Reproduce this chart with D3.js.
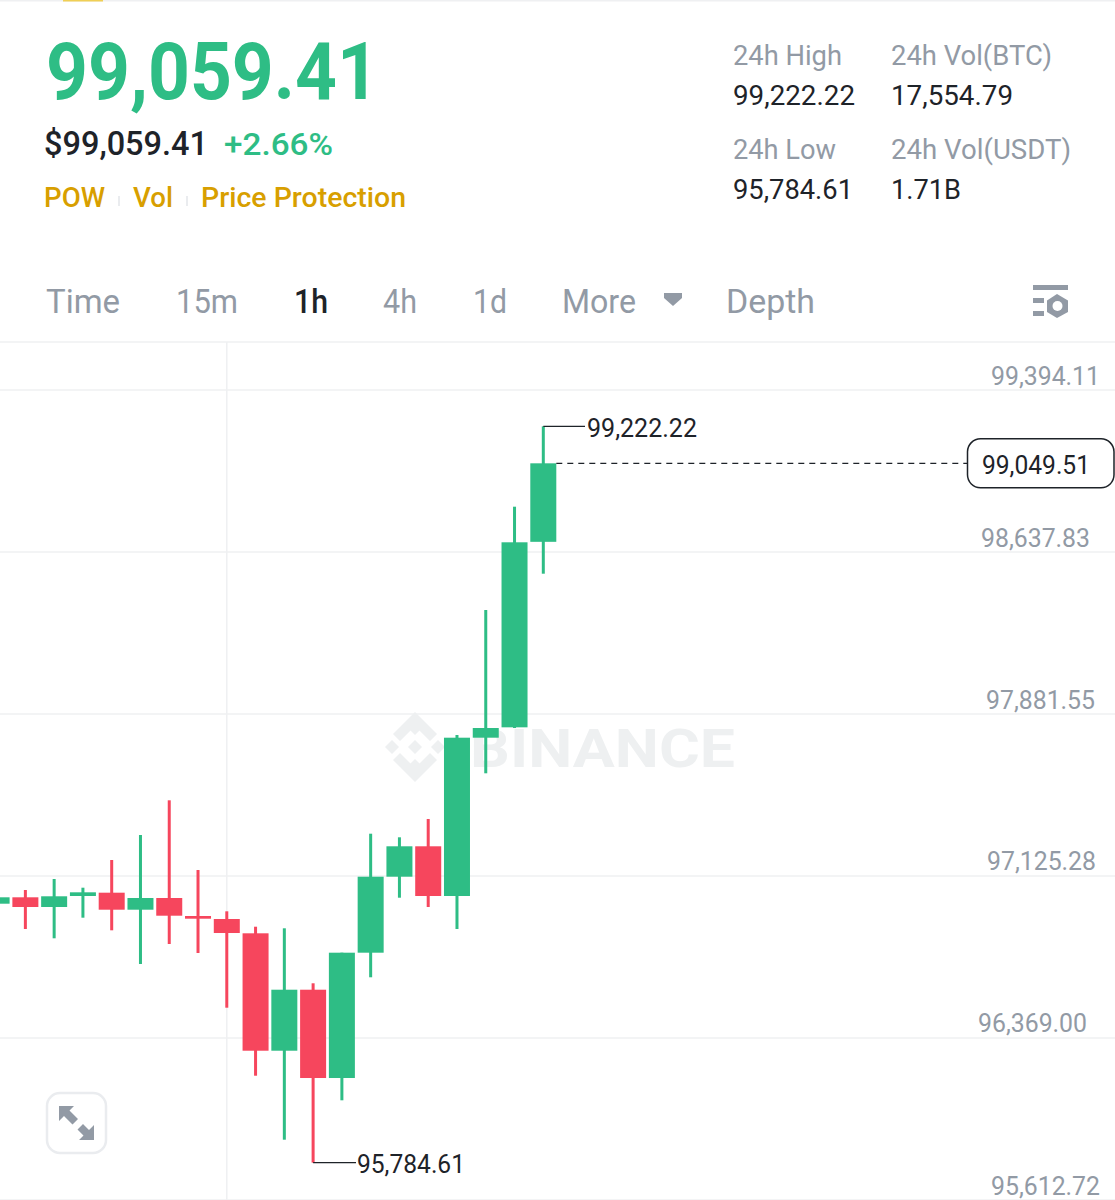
<!DOCTYPE html>
<html>
<head>
<meta charset="utf-8">
<style>
  html, body { margin: 0; padding: 0; background: #fff; }
  svg { display: block; }
  text { font-family: Roboto, sans-serif; }
</style>
</head>
<body>
<svg id="chart" width="1115" height="1200"></svg>
<script src="https://cdn.jsdelivr.net/npm/d3@7"></script>
<script>
// candles, oldest first
const opens  = [96993.6, 97023.5, 96978.2, 97029.6, 97045.0, 96965.6, 97020.2, 96936.2, 96922.2, 96855.4, 96307.3, 96592.1, 96179.9, 96764.9, 97119.7, 97261.6, 97029.6, 97768.6, 97817.0, 98683.0];
const closes = [97023.5, 96978.2, 97028.2, 97046.8, 96965.6, 97020.2, 96937.6, 96923.6, 96856.8, 96307.3, 96592.1, 96179.9, 96764.9, 97119.7, 97261.6, 97029.6, 97768.6, 97813.8, 98680.8, 99049.51];
const highs  = [97023.5, 97057.6, 97108.9, 97068.3, 97197.6, 97314.3, 97476.3, 97150.9, 96958.1, 96886.2, 96878.8, 96622.1, 96764.9, 97320.4, 97303.6, 97389.1, 97781.2, 98364.7, 98847.0, 99222.22];
const lows   = [96993.6, 96875.5, 96832.1, 96928.3, 96869.4, 96712.1, 96805.5, 96763.5, 96508.1, 96190.6, 95891.9, 95784.61, 96075.8, 96650.1, 97021.6, 96978.2, 96875.5, 97602.4, 97813.8, 98534.2];

const priceTicks = [99394.11, 98637.83, 97881.55, 97125.28, 96369.00, 95612.72];
const tickLeft = [991, 981, 986, 987, 978, 991];

const lastPrice = 99049.51;
const dayHigh = 99222.22;
const dayLow = 95784.61;

const GREEN = '#2ebd85', RED = '#f6465d', GOLD = '#d89f00';
const GREY = '#929aa5', DARK = '#1e2329', LINE = '#eff0f2';

const svg = d3.select('#chart');
const fmt = d3.format(',.2f');

const x = d3.scaleLinear().domain([0, opens.length - 1]).range([-3.4, 543.3]);
const y = d3.scaleLinear().domain([priceTicks[5], priceTicks[0]]).range([1199.5, 389.5]);
const bodyW = 26;

function label(px, py, str, size, color, weight, width) {
  return svg.append('text')
    .attr('x', px).attr('y', py)
    .attr('font-size', size).attr('font-weight', weight || 400)
    .attr('fill', color)
    .attr('textLength', width).attr('lengthAdjust', 'spacingAndGlyphs')
    .text(str);
}

// top border with the little yellow tab
svg.append('rect').attr('x', 0).attr('y', 0).attr('width', 1115).attr('height', 1.5).attr('fill', LINE);
svg.append('rect').attr('x', 63).attr('y', 0).attr('width', 40).attr('height', 1.5).attr('fill', '#f0cf55');

// header
label(46, 99, '99,059.41', 80, GREEN, 700, 333);
label(44, 155, '$99,059.41', 33, DARK, 500, 164);
label(224, 155, '+2.66%', 32, GREEN, 500, 109);
label(44, 207, 'POW', 27, GOLD, 500, 61);
label(133, 207, 'Vol', 27, GOLD, 500, 40);
label(201, 207, 'Price Protection', 27, GOLD, 500, 205);
[119, 187].forEach(sx => {
  svg.append('rect').attr('x', sx - 1).attr('y', 196).attr('width', 2).attr('height', 10).attr('fill', '#eaecef');
});

label(733, 65, '24h High', 28, GREY, 400, 109);
label(891, 65, '24h Vol(BTC)', 28, GREY, 400, 161);
label(733, 105, fmt(dayHigh), 28, DARK, 400, 122);
label(891, 105, '17,554.79', 28, DARK, 400, 122);
label(733, 159, '24h Low', 28, GREY, 400, 103);
label(891, 159, '24h Vol(USDT)', 28, GREY, 400, 180);
label(733, 199, fmt(dayLow), 28, DARK, 400, 120);
label(891, 199, '1.71B', 28, DARK, 400, 70);

// interval tabs
label(46, 313, 'Time', 33, GREY, 400, 74);
label(176, 313, '15m', 33, GREY, 400, 62);
label(294, 313, '1h', 33, DARK, 500, 34);
label(383, 313, '4h', 33, GREY, 400, 34);
label(473, 313, '1d', 33, GREY, 400, 34);
label(562, 313, 'More', 33, GREY, 400, 74);
label(726, 313, 'Depth', 33, GREY, 400, 89);
svg.append('path').attr('d', 'M664,293H682V298L673,306L664,298Z').attr('fill', GREY);

// settings icon
const icon = svg.append('g').attr('fill', GREY);
icon.append('rect').attr('x', 1033).attr('y', 285).attr('width', 35).attr('height', 5);
icon.append('rect').attr('x', 1033).attr('y', 298).attr('width', 11).attr('height', 5);
icon.append('rect').attr('x', 1033).attr('y', 311).attr('width', 11).attr('height', 5);
icon.append('path').attr('d', 'M1057,294L1068,300.5V312L1057,318L1047,312V300.5Z');
icon.append('circle').attr('cx', 1057.5).attr('cy', 306).attr('r', 5).attr('fill', '#fff');

// frame of the plot
svg.append('line').attr('x1', 0).attr('x2', 1115).attr('y1', 342).attr('y2', 342).attr('stroke', LINE).attr('stroke-width', 1.5);
svg.append('line').attr('x1', x(8)).attr('x2', x(8)).attr('y1', 342).attr('y2', 1200).attr('stroke', LINE).attr('stroke-width', 1.5);

// price axis, grid lines come from the ticks
const axis = svg.append('g')
  .attr('transform', 'translate(1115,0)')
  .call(d3.axisRight(y).tickValues(priceTicks).tickFormat(fmt).tickSize(-1115));
axis.select('.domain').remove();
axis.selectAll('line').attr('stroke', LINE).attr('stroke-width', 1.5);
axis.selectAll('text')
  .attr('font-family', 'Roboto, sans-serif')
  .attr('font-size', 25).attr('fill', GREY)
  .attr('dy', 0).attr('y', -5.5)
  .attr('x', (d, i) => tickLeft[i] - 1115)
  .attr('text-anchor', 'start')
  .attr('textLength', 109).attr('lengthAdjust', 'spacingAndGlyphs');

// watermark
const mark = svg.append('g').attr('fill', '#eef0f1').attr('transform', 'translate(415,747)');
[[0, -23, 11], [-23, 0, 7], [23, 0, 7], [0, 23, 11], [0, 0, 7]].forEach(d => {
  const [cx, cy, r] = d;
  mark.append('path').attr('d', `M${cx},${cy - r}L${cx + r},${cy}L${cx},${cy + r}L${cx - r},${cy}Z`);
});
mark.append('path').attr('d', 'M0,-35L22,-13L15,-6L0,-21L-15,-6L-22,-13Z');
mark.append('path').attr('d', 'M0,35L22,13L15,6L0,21L-15,6L-22,13Z');
label(470, 767, 'BINANCE', 54, '#eef0f1', 700, 265);

// candles
const candles = svg.append('g').selectAll('g')
  .data(opens.map((o, i) => ({ i, o, c: closes[i], h: highs[i], l: lows[i] })))
  .join('g')
  .attr('fill', d => d.c >= d.o ? GREEN : RED);

candles.append('rect')
  .attr('x', d => x(d.i) - 1.5)
  .attr('width', 3)
  .attr('y', d => y(d.h))
  .attr('height', d => y(d.l) - y(d.h));

candles.append('rect')
  .attr('x', d => x(d.i) - bodyW / 2)
  .attr('width', bodyW)
  .attr('y', d => y(Math.max(d.o, d.c)))
  .attr('height', d => Math.max(y(Math.min(d.o, d.c)) - y(Math.max(d.o, d.c)), 2.5));

// last price line and its box
const lastY = y(lastPrice);
svg.append('line')
  .attr('x1', x(19) + bodyW / 2).attr('x2', 967)
  .attr('y1', lastY).attr('y2', lastY)
  .attr('stroke', DARK).attr('stroke-width', 1.3).attr('stroke-dasharray', '6,5');
svg.append('rect')
  .attr('x', 967.5).attr('y', lastY - 24.5).attr('width', 146.5).attr('height', 49).attr('rx', 13)
  .attr('fill', '#fff').attr('stroke', DARK).attr('stroke-width', 1.5);
label(982, lastY + 10.5, fmt(lastPrice), 25, DARK, 400, 108);

// high and low callouts
const highI = highs.indexOf(dayHigh), lowI = lows.indexOf(dayLow);
svg.append('line').attr('x1', x(highI)).attr('x2', 585).attr('y1', y(dayHigh)).attr('y2', y(dayHigh)).attr('stroke', DARK).attr('stroke-width', 1.3);
label(587, y(dayHigh) + 10.5, fmt(dayHigh), 25, DARK, 400, 110);
svg.append('line').attr('x1', x(lowI)).attr('x2', 356).attr('y1', y(dayLow)).attr('y2', y(dayLow)).attr('stroke', DARK).attr('stroke-width', 1.3);
label(357, y(dayLow) + 10.5, fmt(dayLow), 25, DARK, 400, 108);

// expand button
svg.append('rect').attr('x', 47).attr('y', 1093).attr('width', 59).attr('height', 60).attr('rx', 13)
  .attr('fill', '#fff').attr('stroke', '#eaecef').attr('stroke-width', 2.5);
const arrows = svg.append('g').attr('fill', GREY);
arrows.append('path').attr('d', 'M59,1106H74L69.5,1110.5L78,1119L72.5,1124.5L64,1116L59,1121Z');
arrows.append('path').attr('d', 'M94,1140H79L83.5,1135.5L77.5,1129.5L83,1124L89,1130L94,1125Z');
</script>
</body>
</html>
